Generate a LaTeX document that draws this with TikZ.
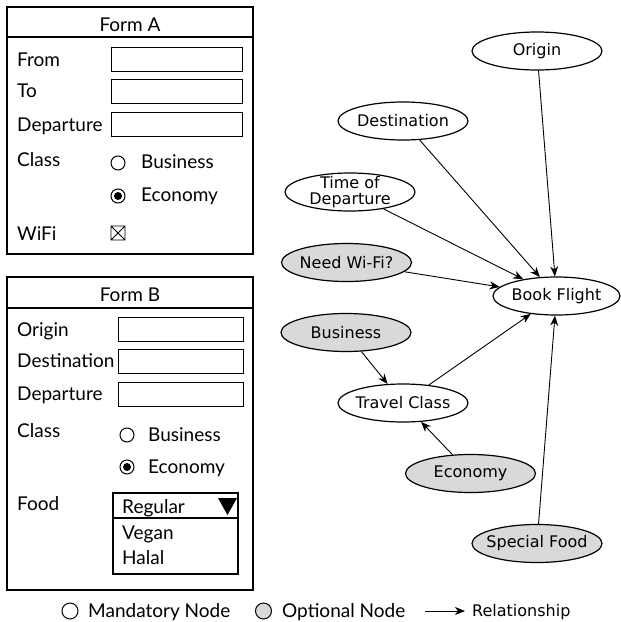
\documentclass[tikz,border=0pt]{standalone}
\usepackage{fontspec}
\setmainfont{Lato}
\newfontfamily\dejavu{DejaVu Sans}
\usetikzlibrary{shapes.geometric,arrows.meta}
\newcommand{\formfont}{\fontsize{19}{22}\selectfont}
\newcommand{\graphfont}{\dejavu\fontsize{16}{15.5}\selectfont}
\tikzset{
  frm/.style={draw, line width=1.2pt},
  fld/.style={draw, line width=1pt},
  lbl/.style={anchor=base west, inner sep=0pt, font=\formfont},
  ttl/.style={anchor=base, inner sep=0pt, font=\formfont},
  gnode/.style={ellipse, draw, line width=1.2pt, minimum width=130pt, minimum height=38pt, inner sep=0pt},
  optnode/.style={gnode, fill=gray!30},
  gtext/.style={font=\graphfont, inner sep=0pt, align=center},
  rel/.style={-{Stealth[length=10pt,width=8pt,inset=3pt]}, line width=0.9pt},
  radio/.style={draw, line width=1pt, fill=white},
}
\begin{document}
\begin{tikzpicture}[x=1pt,y=-1pt]
\useasboundingbox (0,0) rectangle (621,622);
% ---------- Form A ----------
\draw[frm] (7,7) rectangle (253,254);
\draw[frm] (7,37) -- (253,37);
\node[ttl] (fa) at (130,31) {Form A};
\node[lbl] (fa1) at (17,66) {From};
\draw[fld] (111,47) rectangle (242,71);
\node[lbl] (fa2) at (17,97) {To};
\draw[fld] (111,79) rectangle (242,103);
\node[lbl] (fa3) at (17,131) {Departure};
\draw[fld] (111,112) rectangle (242,136);
\node[lbl] (fa4) at (17,166) {Class};
\draw[radio] (118,163) circle (7);
\node[lbl] (fa5) at (141,168) {Business};
\draw[radio] (118,196) circle (7);
\fill (118,196) circle (4);
\node[lbl] (fa6) at (141,201) {Economy};
\node[lbl] (fa7) at (17,240) {WiFi};
\draw[line width=0.8pt] (111,226) rectangle (125,240) (111,226) -- (125,240) (111,240) -- (125,226);
% ---------- Form B ----------
\draw[frm] (7,277) rectangle (253,590);
\draw[frm] (7,308) -- (253,308);
\node[ttl] (fb) at (130,301) {Form B};
\node[lbl] (fb1) at (17,336) {Origin};
\draw[fld] (118,317) rectangle (243,341);
\node[lbl] (fb2) at (17,367) {Destination};
\draw[fld] (118,349) rectangle (243,373);
\node[lbl] (fb3) at (17,400) {Departure};
\draw[fld] (118,382) rectangle (243,406);
\node[lbl] (fb4) at (17,437) {Class};
\draw[radio] (127,435) circle (7);
\node[lbl] (fb5) at (148,441) {Business};
\draw[radio] (127,467) circle (7);
\fill (127,467) circle (4);
\node[lbl] (fb6) at (148,473) {Economy};
\node[lbl] (fb7) at (17,510) {Food};
\draw[frm] (113,493) rectangle (238,574);
\draw[frm] (113,518) -- (238,518);
\node[lbl] (fb8) at (122,513) {Regular};
\fill (218,498) -- (237,498) -- (227.5,515) -- cycle;
\node[lbl] (fb9) at (122,539) {Vegan};
\node[lbl] (fb10) at (122,564) {Halal};
% ---------- Graph ----------
\node[gnode] (orig) at (537,51) {};
\node[gtext] at (orig) {Origin};
\node[gnode] (dest) at (403,121) {};
\node[gtext] at (dest) {Destination};
\node[gnode] (time) at (350,192) {};
\node[gtext] at (time) {Time of\\Departure};
\node[optnode] (wifi) at (346.5,262.5) {};
\node[gtext] at (wifi) {Need Wi-Fi?};
\node[gnode, minimum width=127pt] (book) at (556.5,296) {};
\node[gtext] at (book) {Book Flight};
\node[optnode] (bus) at (346,332.5) {};
\node[gtext] at (bus) {Business};
\node[gnode] (tc) at (403,403) {};
\node[gtext] at (tc) {Travel Class};
\node[optnode] (eco) at (470.5,473.5) {};
\node[gtext] at (eco) {Economy};
\node[optnode] (sf) at (537,543.5) {};
\node[gtext] at (sf) {Special Food};
\draw[rel] (orig) -- (book);
\draw[rel] (dest) -- (book);
\draw[rel] (time) -- (book);
\draw[rel] (wifi) -- (book);
\draw[rel] (tc) -- (book);
\draw[rel] (sf) -- (book);
\draw[rel] (bus) -- (tc);
\draw[rel] (eco) -- (tc);
% ---------- Legend ----------
\draw[line width=1pt] (70,611) circle (8);
\node[lbl] (lg1) at (88,617) {Mandatory Node};
\draw[line width=1pt, fill=gray!30] (263.5,611) circle (8);
\node[lbl] (lg2) at (282,617) {Optional Node};
\coordinate (la) at (425,611);
\coordinate (lb) at (465,611);
\draw[rel] (la) -- (lb);
\node[gtext, anchor=base west] (lg3) at (472,616) {Relationship};
\end{tikzpicture}
\end{document}
